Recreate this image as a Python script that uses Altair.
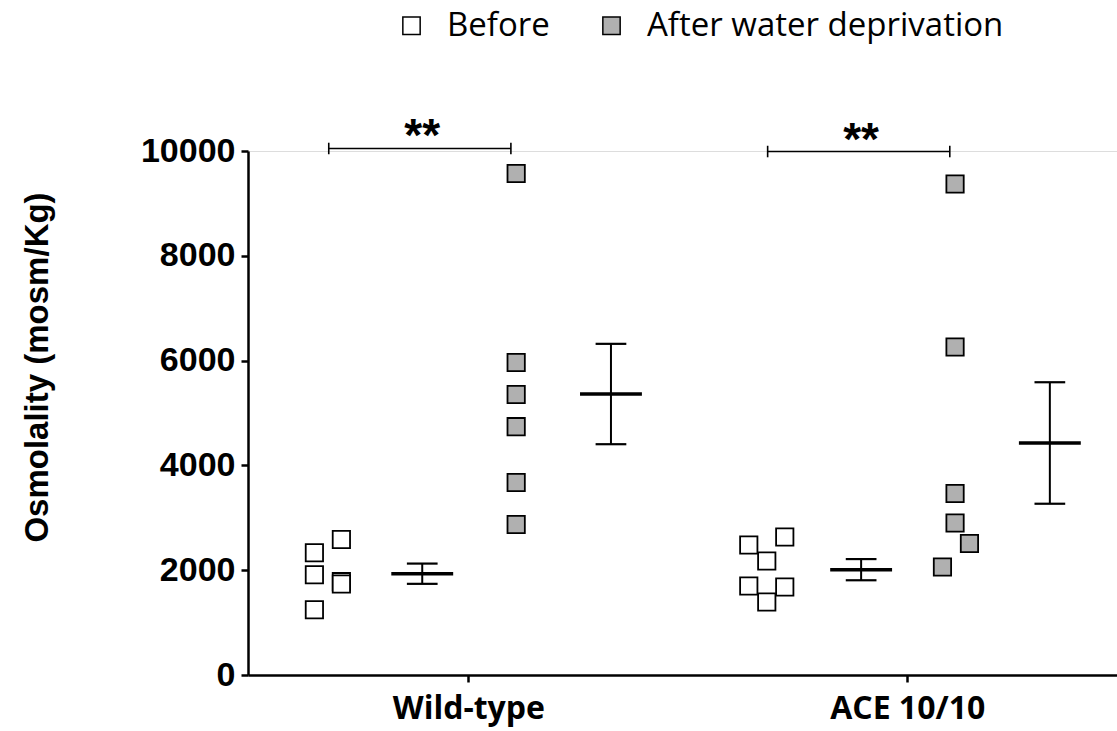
import altair as alt
import pandas as pd
import numpy as np

# Groups and series
GROUPS = ["Wild-type", "ACE 10/10"]
SERIES = ["Before", "After water deprivation"]
FILLS = ["white", "#b0b0b0"]

# Urine osmolality (mosm/Kg), one value per animal
wt_before = [2334, 2586, 1914, 1781, 1737, 1246]
wt_after = [9571, 5964, 5353, 4739, 3674, 2872]
ace_before = [2481, 2176, 2634, 1698, 1393, 1679]
ace_after = [9370, 6260, 3464, 2901, 2510, 2061]

# Column index of each point inside its scatter column (to avoid overlap)
wt_before_col = [-0.75, 0.75, -0.75, 0.75, 0.75, -0.75]
wt_after_col = [0, 0, 0, 0, 0, 0]
ace_before_col = [-1, 0, 1, -1, 0, 1]
ace_after_col = [0, 0, 0, 0, 0.8, -0.7]

# Significance brackets (level in y units) and labels
bracket_level = [10048, 9990]
bracket_label = ["**", "**"]

# Horizontal layout within a group (in group units)
SCATTER_OFF = {"Before": -0.32, "After water deprivation": 0.109}
SUMMARY_OFF = {"Before": -0.105, "After water deprivation": 0.325}
COL_STEP = 0.041
MEAN_HALF = 0.0705
CAP_HALF = 0.035
BRACKET_L, BRACKET_R = -0.318, 0.097

values = {
    (0, "Before"): (wt_before, wt_before_col),
    (0, "After water deprivation"): (wt_after, wt_after_col),
    (1, "Before"): (ace_before, ace_before_col),
    (1, "After water deprivation"): (ace_after, ace_after_col),
}

pts, summ = [], []
for (g, s), (vals, cols) in values.items():
    for v, c in zip(vals, cols):
        pts.append({"x": g + SCATTER_OFF[s] + c * COL_STEP, "y": v, "series": s})
    arr = np.array(vals, dtype=float)
    m = arr.mean()
    sem = arr.std(ddof=1) / np.sqrt(len(arr))
    xc = g + SUMMARY_OFF[s]
    summ.append({"xc": xc, "x1": xc - MEAN_HALF, "x2": xc + MEAN_HALF,
                 "c1": xc - CAP_HALF, "c2": xc + CAP_HALF,
                 "mean": m, "lo": m - sem, "hi": m + sem})

pts = pd.DataFrame(pts)
summ = pd.DataFrame(summ)

br = pd.DataFrame({
    "x1": [g + BRACKET_L for g in range(len(GROUPS))],
    "x2": [g + BRACKET_R for g in range(len(GROUPS))],
    "xm": [g + SUMMARY_OFF["Before"] for g in range(len(GROUPS))],
    "y": bracket_level,
    "ylo": [v - 110 for v in bracket_level],
    "yhi": [v + 110 for v in bracket_level],
    "label": bracket_label,
})

label_expr = " : ".join(
    f"datum.value == {i} ? '{name}'" for i, name in enumerate(GROUPS)
) + " : ''"

xscale = alt.Scale(domain=[-0.502, 1.478], nice=False, zero=False)
yscale = alt.Scale(domain=[0, 10000], nice=False)

x_axis = alt.Axis(
    values=[0, 1], labelExpr=label_expr, title=None, grid=False,
    labelFont="Open Sans", labelFontWeight="bold", labelFontSize=32,
    labelColor="black", labelPadding=11, tickSize=7, tickWidth=2.5,
    tickColor="black", domainColor="black", domainWidth=2.5,
)
y_axis = alt.Axis(
    values=[0, 2000, 4000, 6000, 8000, 10000], format="d", grid=False,
    title="Osmolality (mosm/Kg)", titleFont="Liberation Sans",
    titleFontWeight="bold", titleFontSize=33, titleColor="black",
    titleAngle=270, titleAlign="center", titleBaseline="middle",
    titleX=-211, titleY=216,
    labelFont="Liberation Sans", labelFontWeight="bold", labelFontSize=34,
    labelColor="black", labelPadding=6, tickSize=7, tickWidth=2.5,
    tickColor="black", domainColor="black", domainWidth=2.5,
)

points = alt.Chart(pts).mark_square(
    size=300, stroke="black", strokeWidth=1.8, opacity=1
).encode(
    x=alt.X("x:Q", scale=xscale, axis=x_axis),
    y=alt.Y("y:Q", scale=yscale, axis=y_axis),
    fill=alt.Fill(
        "series:N",
        scale=alt.Scale(domain=SERIES, range=FILLS),
        legend=alt.Legend(
            title=None, orient="none", direction="horizontal",
            legendX=147, legendY=-142,
            symbolType="square", symbolSize=300, symbolStrokeColor="black",
            symbolStrokeWidth=1.5, symbolOpacity=1,
            labelFont="Open Sans", labelFontSize=33, labelColor="black",
            labelOffset=19, columnPadding=45, labelLimit=600,
        ),
    ),
)

mean_line = alt.Chart(summ).mark_rule(color="black", strokeWidth=3.5).encode(
    x="x1:Q", x2="x2:Q", y="mean:Q"
)
err_line = alt.Chart(summ).mark_rule(color="black", strokeWidth=2).encode(
    x="xc:Q", y="lo:Q", y2="hi:Q"
)
cap_hi = alt.Chart(summ).mark_rule(color="black", strokeWidth=2.2).encode(
    x="c1:Q", x2="c2:Q", y="hi:Q"
)
cap_lo = alt.Chart(summ).mark_rule(color="black", strokeWidth=2.2).encode(
    x="c1:Q", x2="c2:Q", y="lo:Q"
)

br_line = alt.Chart(br).mark_rule(color="black", strokeWidth=1.6).encode(
    x="x1:Q", x2="x2:Q", y="y:Q"
)
br_left = alt.Chart(br).mark_rule(color="black", strokeWidth=1.6).encode(
    x="x1:Q", y="ylo:Q", y2="yhi:Q"
)
br_right = alt.Chart(br).mark_rule(color="black", strokeWidth=1.6).encode(
    x="x2:Q", y="ylo:Q", y2="yhi:Q"
)
stars = alt.Chart(br).mark_text(
    font="Liberation Sans", fontWeight="bold", fontSize=46, color="black",
    baseline="alphabetic", align="center", dy=3,
).encode(x="xm:Q", y="y:Q", text="label:N")

chart = alt.layer(
    mean_line, err_line, cap_hi, cap_lo, points,
    br_line, br_left, br_right, stars,
).properties(
    width=869, height=524,
    autosize=alt.AutoSizeParams(type="none"),
    padding={"left": 248, "top": 151, "right": 0, "bottom": 56},
).configure_view(strokeWidth=0).configure(background="white")

chart.save("out.html", embed_options={"renderer": "svg", "actions": False})
